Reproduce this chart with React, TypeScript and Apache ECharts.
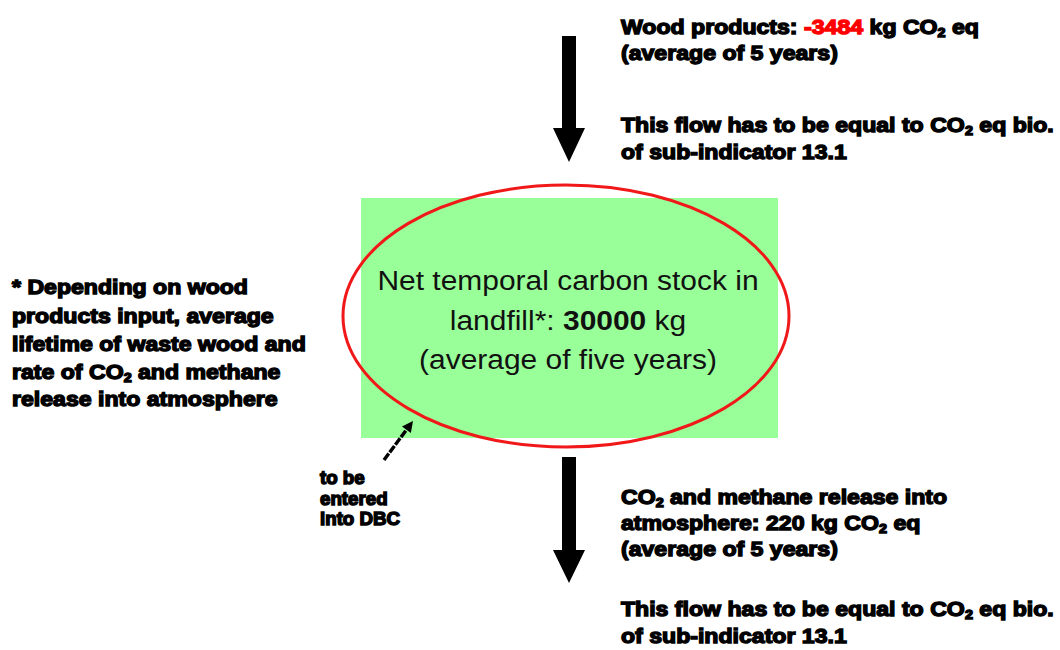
import React, { useEffect, useRef } from "react";
import * as echarts from "echarts";

// ---- data ----
const flowNames = ["Wood products", "CO2 and methane release into atmosphere"];
const flowValues = [-3484, 220]; // kg CO2 eq
const stockValues = [30000]; // kg, net temporal carbon stock in landfill
const averageYears = [5];
const subIndicator = ["13.1"];

const FONT = '"Liberation Sans", Arial, Helvetica, sans-serif';

function richSet(size: number) {
  const base = { fontFamily: FONT, fontWeight: "bold", fontSize: size, fill: "#000", stroke: "#000", lineWidth: 1.4 };
  return {
    s: { ...base, fontSize: Math.round(size * 0.62), padding: [Math.round(size * 0.58), 0, 0, 0] },
    r: { ...base, fill: "#ff0000", stroke: "#ff0000" },
  };
}

function boldLine(x: number, y: number, text: string, size: number, sx = 1.1) {
  return {
    type: "text",
    x,
    y,
    scaleX: sx,
    silent: true,
    style: {
      text,
      fontFamily: FONT,
      fontWeight: "bold",
      fontSize: size,
      fill: "#000",
      stroke: "#000",
      lineWidth: 1.4,
      align: "left",
      verticalAlign: "middle",
      rich: richSet(size),
    },
  };
}

function normalLine(x: number, y: number, text: string, size: number) {
  const base = { fontFamily: FONT, fontSize: size, fill: "#111" };
  return {
    type: "text",
    x,
    y,
    scaleX: 1.07,
    silent: true,
    style: {
      ...base,
      text,
      fontWeight: "normal",
      align: "center",
      verticalAlign: "middle",
      rich: { b: { ...base, fontWeight: "bold" } },
    },
  };
}

function downArrow(cx: number, top: number, headStart: number, tip: number) {
  const sw = 7,
    hw = 16;
  return {
    type: "polygon",
    silent: true,
    shape: {
      points: [
        [cx - sw, top],
        [cx + sw, top],
        [cx + sw, headStart],
        [cx + hw, headStart],
        [cx, tip],
        [cx - hw, headStart],
        [cx - sw, headStart],
      ],
    },
    style: { fill: "#000" },
  };
}

function smallArrow(x0: number, y0: number, x1: number, y1: number) {
  const dx = x1 - x0,
    dy = y1 - y0;
  const L = Math.sqrt(dx * dx + dy * dy);
  const ux = dx / L,
    uy = dy / L;
  const hl = 11,
    hw = 5.5;
  const bx = x1 - ux * hl,
    by = y1 - uy * hl;
  const px = -uy,
    py = ux;
  return [
    {
      type: "line",
      silent: true,
      shape: { x1: x0, y1: y0, x2: bx, y2: by },
      style: { stroke: "#000", lineWidth: 3.4, lineDash: [8, 1.5] },
    },
    {
      type: "polygon",
      silent: true,
      shape: {
        points: [
          [x1, y1],
          [bx + px * hw, by + py * hw],
          [bx - px * hw, by - py * hw],
        ],
      },
      style: { fill: "#000" },
    },
  ];
}

export default function App() {
  const ref = useRef<HTMLDivElement>(null);
  useEffect(() => {
    document.body.style.margin = "0";
    const chart = echarts.init(ref.current!, null, { renderer: "svg" });
    const inVal = flowValues[0];
    const outVal = flowValues[1];
    const yrs = averageYears[0];
    const elements: any[] = [
      // green box
      { type: "rect", silent: true, shape: { x: 361, y: 198, width: 417, height: 240 }, style: { fill: "#99ff99" } },
      // red ellipse
      {
        type: "ellipse",
        silent: true,
        shape: { cx: 566, cy: 316, rx: 223, ry: 131 },
        style: { fill: "none", stroke: "#f01818", lineWidth: 3 },
      },
      normalLine(568, 280, "Net temporal carbon stock in", 28),
      normalLine(568, 320, `landfill*: {b|${stockValues[0]}} kg`, 28),
      normalLine(568, 359, "(average of five years)", 28),
      downArrow(569, 36, 128, 162),
      downArrow(569, 457, 550, 583),
      ...smallArrow(384, 460, 413, 421),
      // top-right
      boldLine(621, 27, `${flowNames[0]}: {r|${inVal}} kg CO{s|2} eq`, 21),
      boldLine(621, 53, `(average of ${yrs} years)`, 21),
      boldLine(621, 125, "This flow has to be equal to CO{s|2} eq bio.", 21),
      boldLine(621, 152, `of sub-indicator ${subIndicator[0]}`, 21),
      // left note
      boldLine(12, 287, "* Depending on wood", 21),
      boldLine(12, 316, "products input, average", 21),
      boldLine(12, 344, "lifetime of waste wood and", 21),
      boldLine(12, 372, "rate of CO{s|2} and methane", 21),
      boldLine(12, 399, "release into atmosphere", 21),
      // to be entered
      boldLine(320, 478, "to be", 18, 1.04),
      boldLine(320, 499, "entered", 18, 1.04),
      boldLine(320, 519, "into DBC", 18, 1.04),
      // bottom-right
      boldLine(621, 497, "CO{s|2} and methane release into", 21),
      boldLine(621, 523, `atmosphere: ${outVal} kg CO{s|2} eq`, 21),
      boldLine(621, 549, `(average of ${yrs} years)`, 21),
      boldLine(621, 609, "This flow has to be equal to CO{s|2} eq bio.", 21),
      boldLine(621, 636, `of sub-indicator ${subIndicator[0]}`, 21),
    ];
    chart.setOption({
      animation: false,
      backgroundColor: "#ffffff",
      graphic: { elements },
    });
    return () => chart.dispose();
  }, []);
  return <div ref={ref} style={{ width: 1060, height: 650 }} />;
}
